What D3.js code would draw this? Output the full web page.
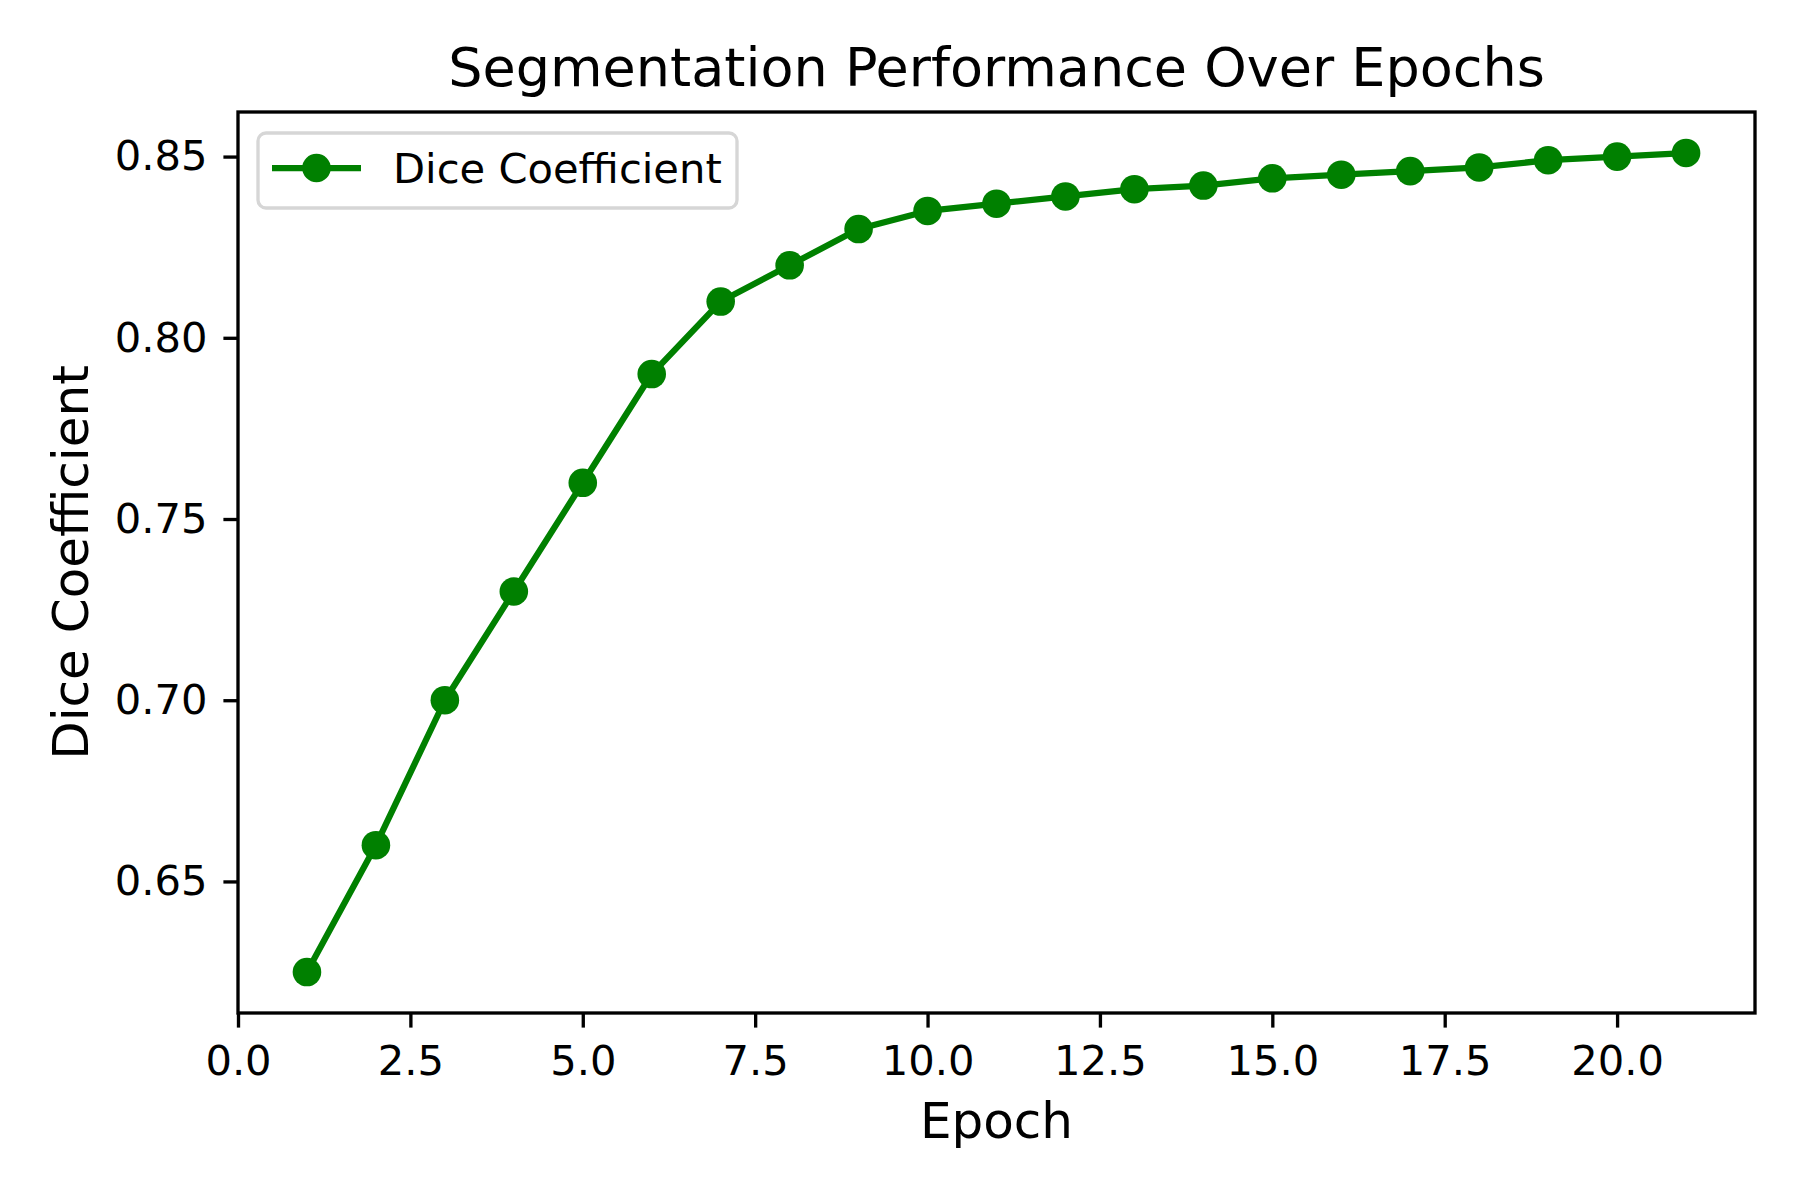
<!DOCTYPE html>
<html lang="en">
<head>
<meta charset="utf-8">
<title>Segmentation Performance Over Epochs</title>
<script src="https://d3js.org/d3.v7.min.js"></script>
<style>
  body { margin: 0; background: #fff; }
  svg text { font-family: "DejaVu Sans", sans-serif; fill: #000; }
</style>
</head>
<body>
<svg id="chart" width="1800" height="1200"></svg>
<script>
// data
var epochs = [1, 2, 3, 4, 5, 6, 7, 8, 9, 10, 11, 12, 13, 14, 15, 16, 17, 18, 19, 20, 21];
var dice = [0.625, 0.66, 0.70, 0.73, 0.76, 0.79, 0.81, 0.82, 0.83, 0.835, 0.837,
            0.839, 0.841, 0.842, 0.844, 0.845, 0.846, 0.847, 0.849, 0.850, 0.851];
var xTicks = [0, 2.5, 5, 7.5, 10, 12.5, 15, 17.5, 20];
var yTicks = [0.65, 0.70, 0.75, 0.80, 0.85];

(function () {
  var W = 1800, H = 1200;
  // plot area (window.top is reserved, so keep these local)
  var pL = 238, pR = 1755, pT = 112, pB = 1013;
  var green = "#008000";
  var markerR = 14.3;

  var svg = d3.select("#chart");
  svg.append("rect").attr("width", W).attr("height", H).attr("fill", "#fff");

  // matplotlib-like 5% margins
  function padded(vals) {
    var lo = d3.min(vals), hi = d3.max(vals), m = (hi - lo) * 0.05;
    return [lo - m, hi + m];
  }

  var x = d3.scaleLinear().domain(padded(epochs)).range([pL, pR]);
  var y = d3.scaleLinear().domain(padded(dice)).range([pB, pT]);

  var xAxis = svg.append("g")
    .attr("transform", "translate(0," + pB + ")")
    .call(d3.axisBottom(x).tickValues(xTicks).tickSize(14.6).tickPadding(17.5)
      .tickFormat(d3.format(".1f")));

  var yAxis = svg.append("g")
    .attr("transform", "translate(" + pL + ",0)")
    .call(d3.axisLeft(y).tickValues(yTicks).tickSize(14.6).tickPadding(16)
      .tickFormat(d3.format(".2f")));

  [xAxis, yAxis].forEach(function (g) {
    g.select(".domain").remove();
    g.selectAll(".tick line").attr("stroke", "#000").attr("stroke-width", 3.33);
    g.selectAll(".tick text").attr("font-size", 41.67)
      .attr("font-family", "DejaVu Sans");
  });

  // line + markers
  var line = d3.line()
    .x(function (d, i) { return x(epochs[i]); })
    .y(function (d) { return y(d); });

  svg.append("path")
    .datum(dice)
    .attr("d", line)
    .attr("fill", "none")
    .attr("stroke", green)
    .attr("stroke-width", 6.25)
    .attr("stroke-linejoin", "round")
    .attr("stroke-linecap", "square");

  svg.selectAll("circle.pt")
    .data(dice)
    .enter()
    .append("circle")
    .attr("class", "pt")
    .attr("cx", function (d, i) { return x(epochs[i]); })
    .attr("cy", function (d) { return y(d); })
    .attr("r", markerR)
    .attr("fill", green);

  // frame
  svg.append("rect")
    .attr("x", pL).attr("y", pT)
    .attr("width", pR - pL).attr("height", pB - pT)
    .attr("fill", "none").attr("stroke", "#000").attr("stroke-width", 3.33);

  // title and labels
  svg.append("text")
    .attr("x", (pL + pR) / 2).attr("y", 86)
    .attr("text-anchor", "middle").attr("font-size", 54)
    .text("Segmentation Performance Over Epochs");

  svg.append("text")
    .attr("x", (pL + pR) / 2).attr("y", 1138)
    .attr("text-anchor", "middle").attr("font-size", 50)
    .text("Epoch");

  svg.append("text")
    .attr("transform", "translate(88," + (pT + pB) / 2 + ") rotate(-90)")
    .attr("text-anchor", "middle").attr("font-size", 50)
    .text("Dice Coefficient");

  // legend
  var lg = svg.append("g");
  lg.append("rect")
    .attr("x", 258).attr("y", 133)
    .attr("width", 479).attr("height", 75)
    .attr("rx", 8).attr("ry", 8)
    .attr("fill", "#fff").attr("fill-opacity", 0.8)
    .attr("stroke", "#d6d6d6").attr("stroke-width", 3.33);
  lg.append("line")
    .attr("x1", 272).attr("x2", 361)
    .attr("y1", 168).attr("y2", 168)
    .attr("stroke", green).attr("stroke-width", 6.25);
  lg.append("circle")
    .attr("cx", 316.5).attr("cy", 168).attr("r", markerR)
    .attr("fill", green);
  lg.append("text")
    .attr("x", 393).attr("y", 183)
    .attr("font-size", 41.67)
    .text("Dice Coefficient");
})();
</script>
</body>
</html>
